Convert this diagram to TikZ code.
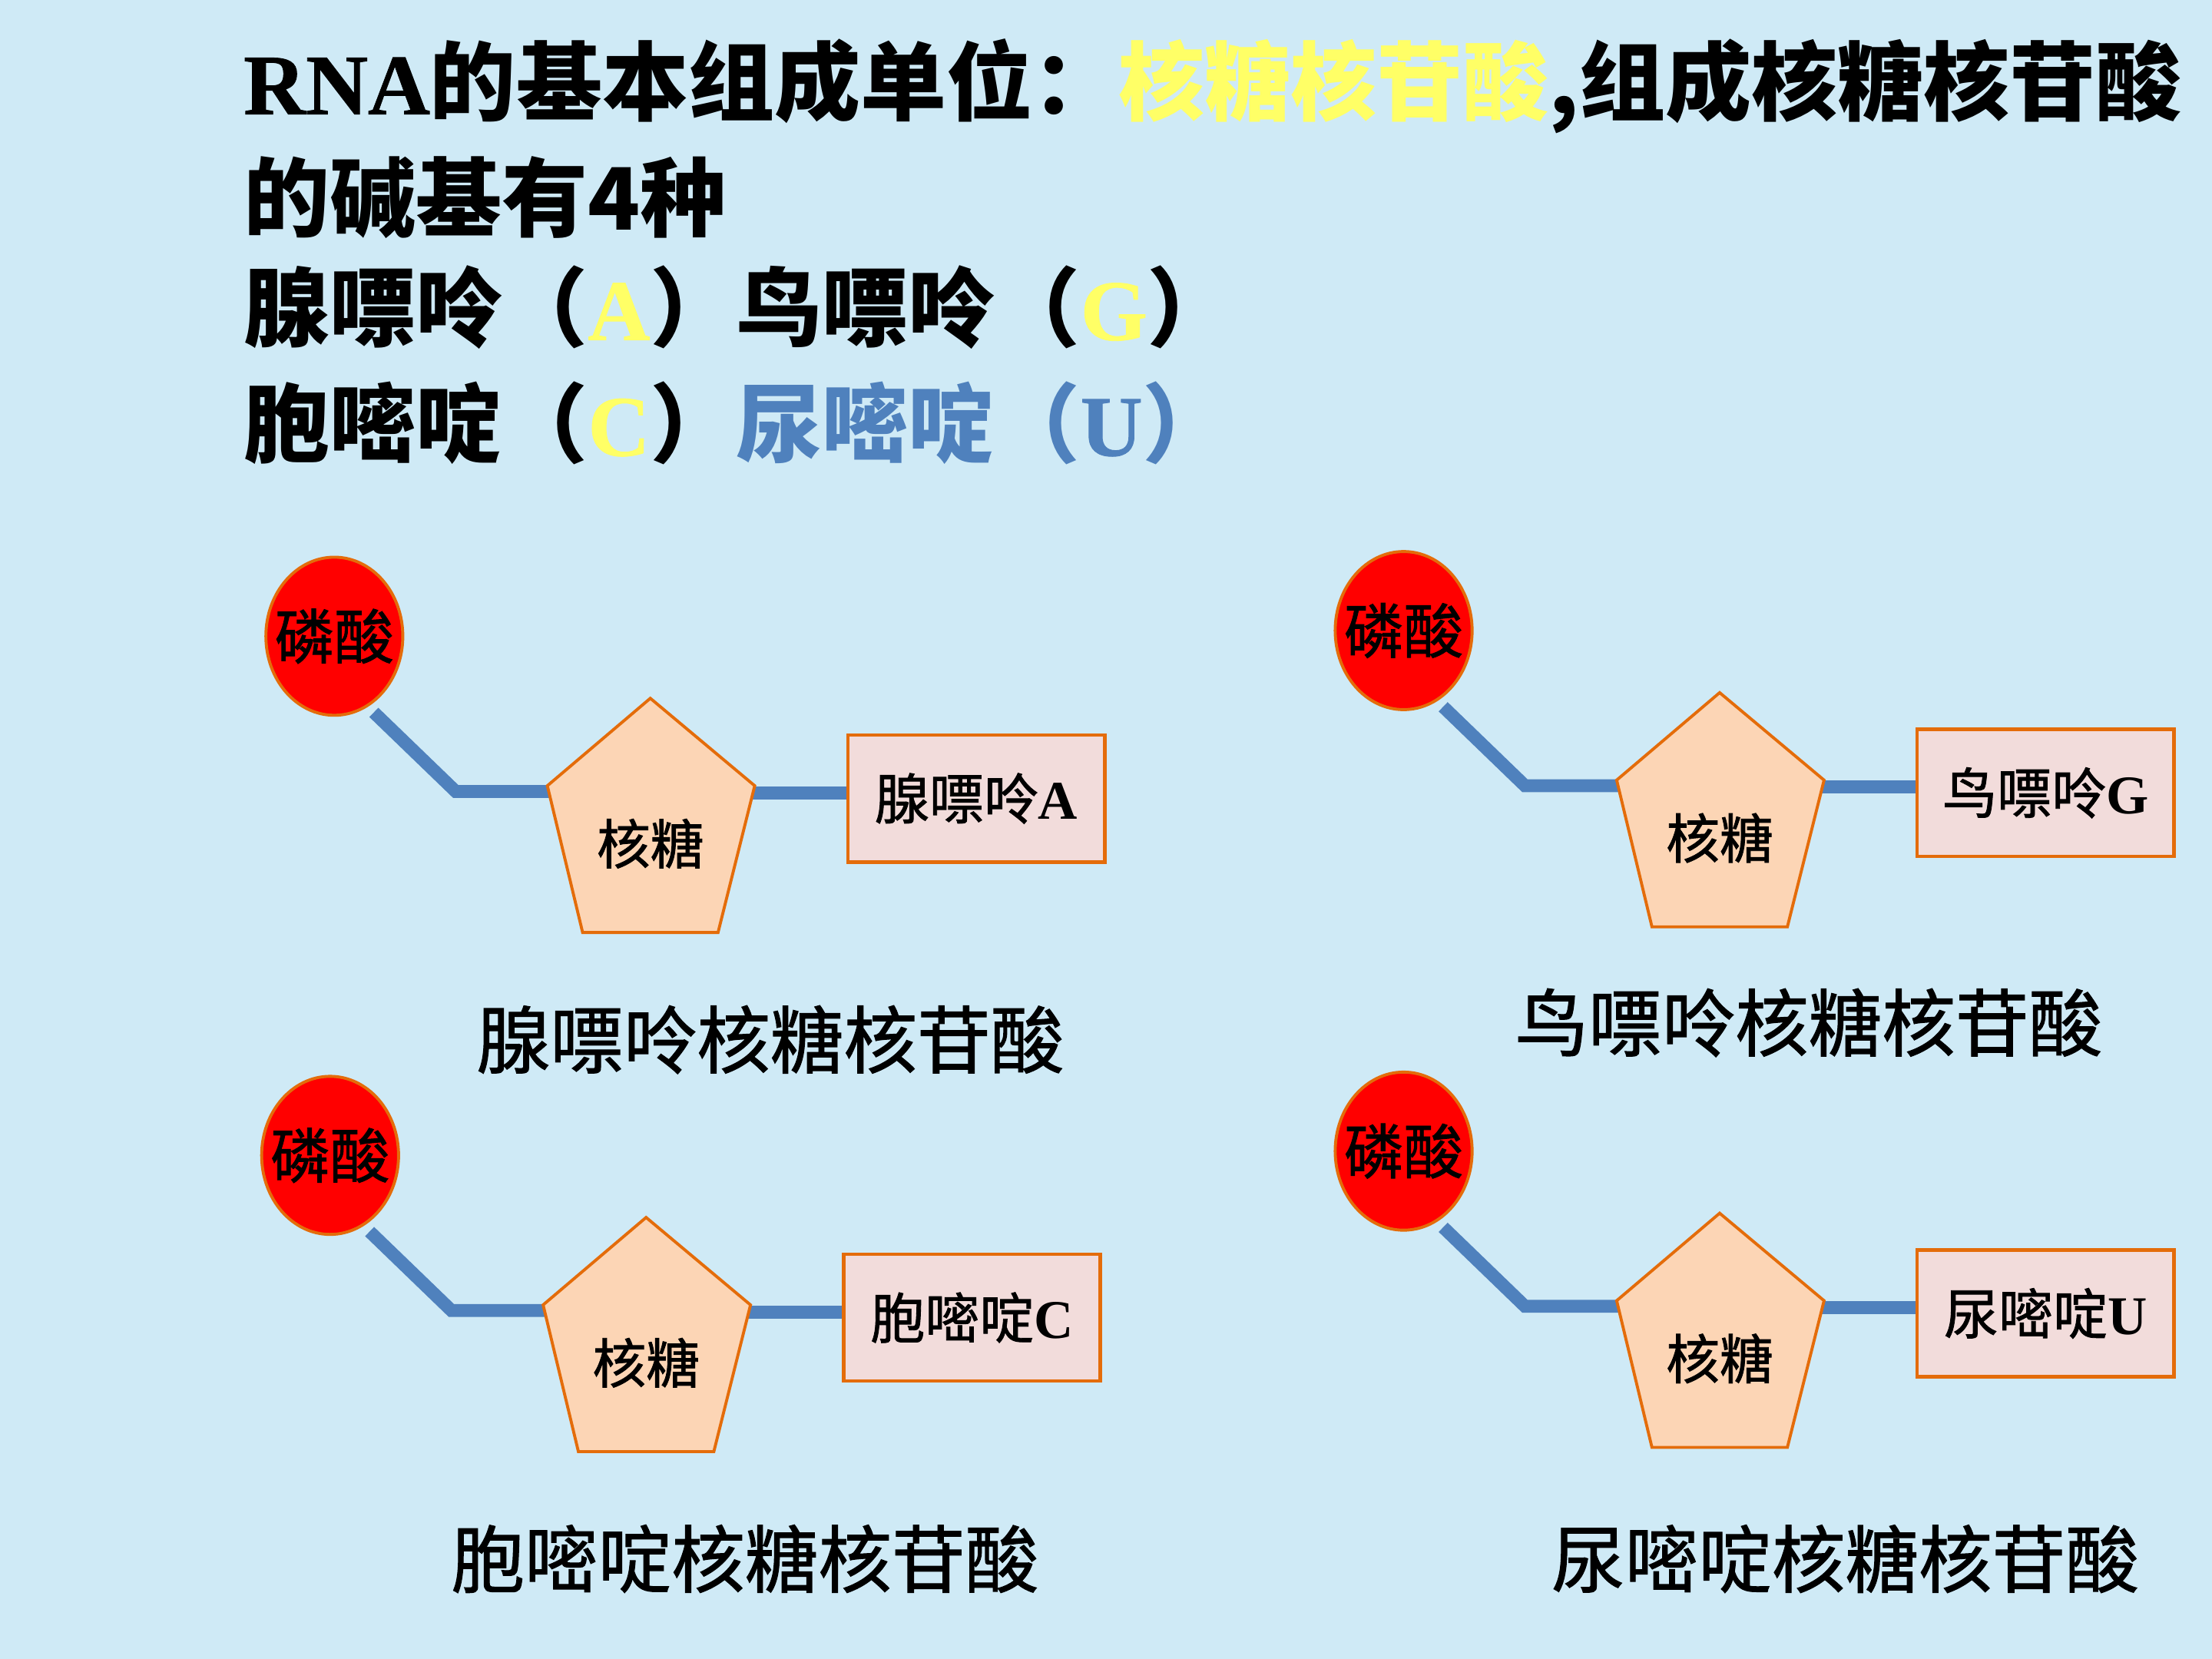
\documentclass[tikz,border=0pt]{standalone}
\usepackage{fontspec}
\setmainfont{Noto Sans CJK SC}
\newfontfamily\tnrb{Liberation Serif Bold}[FakeBold=0.8]
\newfontfamily\tnrbox{Liberation Serif Bold}
\newfontfamily\cjkheavy{Noto Sans CJK SC}[FakeBold=1.2]
\usetikzlibrary{shapes.geometric}
\definecolor{bg}{RGB}{207,234,246}
\definecolor{yel}{RGB}{255,255,102}
\definecolor{ublue}{RGB}{79,129,189}
\definecolor{org}{RGB}{228,108,10}
\definecolor{peach}{RGB}{252,213,181}
\definecolor{pinkbox}{RGB}{242,220,219}
\tikzset{
 conn/.style={draw=ublue,line width=2.6pt},
 phos/.style={ellipse,draw=org,line width=0.6pt,fill=red,minimum width=0.97cm,minimum height=1.12cm,inner sep=0pt},
 phoslab/.style={inner sep=0pt,font=\cjkheavy\fontsize{12pt}{14pt}\selectfont},
 sugar/.style={draw=org,line width=0.6pt,fill=peach},
 basebox/.style={draw=org,line width=0.7pt,fill=pinkbox,minimum width=1.82cm,minimum height=0.90cm,inner sep=0pt,font=\cjkheavy\fontsize{11pt}{13pt}\selectfont},
 innerlab/.style={font=\cjkheavy\fontsize{10.8pt}{13pt}\selectfont,inner sep=0pt},
 titleline/.style={anchor=base west,inner sep=0pt,font=\fontsize{17.35pt}{20pt}\selectfont\bfseries},
 caption/.style={inner sep=0pt,font=\cjkheavy\fontsize{14.8pt}{17pt}\selectfont},
}
\newcommand\nucunit[4]{%
 \begin{scope}[shift={(#2,#3)}]
 \coordinate (pt#1) at (224,44);
 \coordinate (pl#1) at (151,106);
 \coordinate (pr#1) at (298,106);
 \coordinate (pbr#1) at (272,210);
 \coordinate (pbl#1) at (176,210);
 \coordinate (ka#1) at (28,54);
 \coordinate (kb#1) at (86,110);
 \coordinate (kc#1) at (154,110);
 \coordinate (kd#1) at (296,111);
 \node[basebox] (bs#1) at (455,115) {#4};
 \draw[conn] (ka#1) -- (kb#1) -- (kc#1);
 \draw[conn] (kd#1) -- (kd#1 -| bs#1.west);
 \draw[sugar] (pt#1) -- (pr#1) -- (pbr#1) -- (pbl#1) -- (pl#1) -- cycle;
 \node[innerlab] (su#1) at (224,147) {核糖};
 \node[phos] (ph#1) at (0,0) {};
 \node[phoslab] (pt#1) at (ph#1.center) {磷酸};
 \end{scope}}
\begin{document}
\begin{tikzpicture}[x=0.01cm,y=-0.01cm]
\fill[bg] (0,0) rectangle (1568,1176);
\useasboundingbox (0,0) rectangle (1568,1176);
\node[titleline] (t1) at (172,81) {{\tnrb RNA}的基本组成单位：\textcolor{yel}{核糖核苷酸},组成核糖核苷酸};
\node[titleline] (t2) at (172,163) {的碱基有4种};
\node[titleline] (t3) at (172,241) {腺嘌呤（\textcolor{yel}{\tnrb A}）鸟嘌呤（\textcolor{yel}{\tnrb G}）};
\node[titleline] (t4) at (172,323) {胞嘧啶（\textcolor{yel}{\tnrb C}）\textcolor{ublue}{尿嘧啶（{\tnrb U}）}};
\nucunit{1}{237}{451}{腺嘌呤{\tnrbox A}}
\nucunit{2}{995}{447}{鸟嘌呤{\tnrbox G}}
\nucunit{3}{234}{819}{胞嘧啶{\tnrbox C}}
\nucunit{4}{995}{816}{尿嘧啶{\tnrbox U}}
\node[caption] (cap1) at (546,737) {腺嘌呤核糖核苷酸};
\node[caption] (cap2) at (1282,725) {鸟嘌呤核糖核苷酸};
\node[caption] (cap3) at (528,1105) {胞嘧啶核糖核苷酸};
\node[caption] (cap4) at (1308,1105) {尿嘧啶核糖核苷酸};
\end{tikzpicture}
\end{document}
